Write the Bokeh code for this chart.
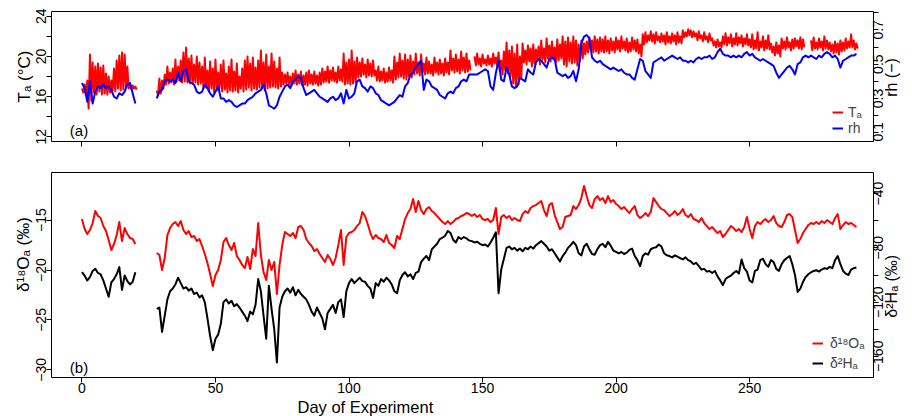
import numpy as np
from bokeh.plotting import figure
from bokeh.models import Range1d, LinearAxis, FixedTicker, Legend, LegendItem, Label, Title
from bokeh.layouts import column
from bokeh.embed import file_html
from bokeh.resources import INLINE

FONT = "Liberation Sans"
nan = float("nan")
UP = 1.5707963267948966  # text reading bottom-to-top

# ---------------- data ----------------
days_a = list(range(0, 21))      # first measurement period
days_b = list(range(28, 291))    # second measurement period

# air temperature: daily maximum / minimum (deg C)
ta_hi_a = [16.8, 17.2, 17.6, 20.2, 19.4, 19.0, 19.3, 18.9, 19.1, 18.3,
           18.0, 17.6, 18.8, 19.6, 20.1, 20.4, 20.2, 19.0, 17.3, 17.1, 17.0]
ta_lo_a = [16.4, 16.2, 14.8, 15.6, 16.4, 16.2, 16.5, 16.2, 16.3, 16.2,
           16.4, 16.6, 16.5, 16.8, 16.6, 16.7, 16.9, 16.8, 16.7, 16.8, 16.7]
ta_hi_b = [16.6, 17.8, 17.6, 18.2, 19.0, 18.4, 18.8, 19.7, 19.0, 19.6,
           20.4, 20.9, 19.8, 20.1, 19.2, 20.0, 19.4, 19.0, 19.9, 18.6,
           19.5, 18.8, 19.7, 18.4, 19.2, 19.6, 18.3, 19.0, 19.7, 18.5,
           19.3, 18.0, 18.8, 19.6, 20.0, 19.3, 19.9, 18.9, 19.6, 20.6,
           19.4, 20.2, 19.0, 20.3, 19.5, 18.8, 19.9, 18.4, 18.2, 18.4,
           18.0, 18.3, 18.6, 18.2, 18.5, 18.1, 18.4, 18.6, 18.2, 18.5,
           18.1, 18.4, 18.8, 18.5, 19.0, 18.6, 18.9, 18.4, 19.0, 18.7,
           20.3, 19.4, 19.7, 20.6, 19.5, 19.9, 19.4, 19.8, 19.2, 19.7,
           19.3, 19.6, 18.6, 19.0, 18.5, 18.8, 18.4, 18.9, 18.6, 20.0,
           19.4, 20.3, 19.6, 20.2, 19.7, 20.1, 19.5, 20.3, 19.4, 20.2,
           19.3, 19.9, 19.5, 19.2, 19.9, 19.4, 19.7, 19.3, 19.8, 19.4,
           20.6, 19.8, 20.2, 19.7, 20.5, 19.9, 20.3, 19.6, nan, 20.0,
           20.3, 19.8, 20.2, 19.7, 20.1, 19.8, 20.3, 19.9, 20.4, 19.6,
           20.5, 21.4, 20.6, 21.0, 20.3, 21.2, 20.0, 21.3, 20.6, 21.1,
           20.8, 21.2, 20.7, 21.0, 21.6, 20.8, 21.8, 21.1, 21.5, 20.9,
           21.7, 21.2, 22.0, 21.5, 21.9, 21.4, 22.0, 21.6, 21.2, 21.6,
           21.3, 21.5, 21.9, 21.6, 22.0, 21.7, 21.9, 21.7, 22.0, 21.6,
           21.8, 21.5, 21.9, 21.6, 22.0, 21.5, 21.8, 21.4, 21.9, 21.6,
           21.7, 21.2, 22.2, 22.4, 22.1, 22.5, 22.2, 22.4, 22.0, 22.3,
           22.1, 22.4, 22.0, 22.3, 22.1, 22.4, 22.0, 22.6, 22.4, 22.7,
           22.6, 22.5, 22.3, 22.5, 22.1, 22.4, 22.0, 22.3, 21.8, 21.5,
           21.7, 21.4, 22.0, 22.3, 21.9, 22.2, 21.8, 22.3, 21.9, 22.1,
           21.8, 22.2, 21.7, 22.2, 21.6, 22.4, 21.5, 22.0, 21.6, 22.1,
           21.3, 21.0, 21.4, 21.1, 21.8, 21.5, 21.9, 21.4, 21.7, 21.8,
           21.6, 21.9, 21.7, nan, nan, 21.6, 21.9, 21.4, 21.8, 21.5,
           22.0, 21.6, 21.4, 21.2, 21.5, 21.3, 21.6, 21.4, 21.8, 21.5,
           22.2, 21.6, 21.3]
ta_lo_b = [16.1, 16.3, 16.8, 17.2, 17.3, 17.4, 17.2, 17.5, 17.6, 17.4,
           17.5, 17.4, 17.3, 17.3, 17.4, 17.2, 17.3, 16.8, 16.9, 16.5,
           16.8, 16.4, 16.6, 16.8, 16.5, 16.7, 16.4, 16.6, 16.5, 16.6,
           16.4, 16.8, 16.5, 16.7, 16.9, 16.6, 16.8, 16.7, 16.9, 16.8,
           16.6, 16.8, 16.9, 17.0, 16.9, 16.8, 17.0, 17.2, 17.3, 17.2,
           17.1, 17.3, 17.2, 17.3, 17.1, 17.2, 17.1, 17.3, 17.2, 17.3,
           17.1, 17.2, 17.4, 17.5, 17.4, 17.6, 17.5, 17.4, 17.6, 17.5,
           17.2, 17.3, 17.2, 17.3, 17.4, 17.9, 18.0, 18.2, 17.9, 18.1,
           18.0, 18.1, 17.6, 17.5, 17.6, 17.4, 17.5, 17.6, 17.4, 17.7,
           17.9, 18.0, 17.8, 17.7, 18.0, 17.9, 18.2, 18.3, 18.1, 18.4,
           18.2, 18.3, 18.3, 18.1, 18.4, 18.2, 18.3, 18.1, 18.4, 18.2,
           18.6, 18.4, 18.5, 18.3, 18.6, 18.4, 18.5, 18.6, nan, 19.1,
           19.2, 19.0, 19.3, 19.1, 19.2, 19.0, 19.3, 19.1, 18.5, 18.2,
           18.6, 18.3, 18.0, 17.3, 17.0, 17.2, 17.8, 19.4, 19.2, 19.5,
           19.0, 19.3, 19.6, 19.2, 19.7, 19.4, 19.8, 19.5, 19.7, 19.4,
           19.6, 19.8, 19.2, 19.0, 19.5, 19.3, 19.4, 19.1, 19.6, 19.8,
           20.2, 20.4, 20.6, 20.4, 20.5, 20.3, 20.5, 20.4, 20.5, 20.3,
           20.6, 20.4, 20.7, 20.5, 20.8, 20.6, 20.4, 20.5, 20.7, 20.5,
           20.3, 20.0, 21.2, 21.4, 21.6, 21.5, 21.3, 21.6, 21.4, 21.5,
           21.2, 21.4, 21.3, 21.5, 21.2, 21.4, 21.3, 21.9, 22.0, 22.1,
           21.9, 22.0, 21.6, 21.8, 21.5, 21.7, 21.4, 21.6, 21.1, 20.9,
           21.0, 20.9, 21.2, 21.1, 21.3, 21.0, 21.2, 21.1, 21.3, 21.0,
           21.2, 21.1, 20.9, 20.7, 20.8, 20.6, 20.9, 20.6, 20.8, 20.7,
           20.4, 20.1, 20.3, 20.0, 20.8, 20.7, 20.9, 20.6, 20.8, 21.0,
           20.8, 20.7, 20.9, nan, nan, 20.6, 20.8, 20.7, 20.9, 20.6,
           20.8, 20.7, 20.5, 20.3, 20.4, 20.2, 20.5, 20.6, 20.8, 20.9,
           20.9, 20.7, 20.8]

# relative humidity (-)
rh_a = [0.39, 0.36, 0.28, 0.40, 0.27, 0.34, 0.37, 0.36, 0.38, 0.36,
        0.37, 0.35, 0.31, 0.30, 0.33, 0.32, 0.34, 0.38, 0.39, 0.33, 0.27]
rh_b = [0.30, 0.34, 0.35, 0.40, 0.41, 0.40, 0.41, 0.39, 0.45, 0.40,
        0.46, 0.47, 0.40, 0.39, 0.38, 0.34, 0.33, 0.34, 0.38, 0.36,
        0.33, 0.31, 0.34, 0.37, 0.30, 0.30, 0.28, 0.29, 0.28, 0.26,
        0.25, 0.26, 0.27, 0.27, 0.29, 0.30, 0.31, 0.33, 0.34, 0.35,
        0.38, 0.33, 0.26, 0.25, 0.24, 0.26, 0.31, 0.34, 0.37, 0.38,
        0.36, 0.40, 0.41, 0.43, 0.42, 0.36, 0.32, 0.33, 0.34, 0.35,
        0.33, 0.31, 0.30, 0.29, 0.28, 0.30, 0.31, 0.29, 0.30, 0.33,
        0.27, 0.35, 0.30, 0.31, 0.33, 0.40, 0.41, 0.37, 0.36, 0.34,
        0.37, 0.36, 0.33, 0.32, 0.29, 0.28, 0.27, 0.26, 0.27, 0.28,
        0.30, 0.32, 0.31, 0.37, 0.39, 0.44, 0.45, 0.48, 0.50, 0.52,
        0.35, 0.41, 0.40, 0.37, 0.36, 0.35, 0.32, 0.31, 0.30, 0.33,
        0.34, 0.33, 0.36, 0.37, 0.40, 0.41, 0.40, 0.44, 0.44, 0.44,
        0.44, 0.45, 0.46, 0.47, 0.46, 0.37, 0.35, 0.45, 0.52, 0.41,
        0.40, 0.48, 0.44, 0.37, 0.36, 0.37, 0.42, 0.41, 0.40, 0.47,
        0.45, 0.44, 0.51, 0.53, 0.52, 0.50, 0.48, 0.53, 0.54, 0.53,
        0.45, 0.44, 0.43, 0.44, 0.42, 0.43, 0.46, 0.40, 0.47, 0.62,
        0.66, 0.67, 0.65, 0.54, 0.52, 0.51, 0.52, 0.50, 0.49, 0.48,
        0.47, 0.48, 0.47, 0.46, 0.47, 0.45, 0.44, 0.44, 0.42, 0.41,
        0.47, 0.53, 0.52, 0.46, 0.44, 0.42, 0.51, 0.52, 0.53, 0.54,
        0.52, 0.53, 0.54, 0.55, 0.54, 0.53, 0.54, 0.52, 0.52, 0.51,
        0.52, 0.51, 0.53, 0.54, 0.53, 0.54, 0.54, 0.55, 0.53, 0.54,
        0.57, 0.59, 0.56, 0.55, 0.55, 0.54, 0.55, 0.54, 0.55, 0.54,
        0.56, 0.57, 0.55, 0.56, 0.54, 0.53, 0.52, 0.53, 0.52, 0.51,
        0.50, 0.49, 0.45, 0.42, 0.44, 0.46, 0.48, 0.49, 0.47, 0.44,
        0.50, 0.51, 0.54, 0.55, 0.54, 0.55, 0.54, 0.53, 0.55, 0.54,
        0.56, 0.57, 0.56, 0.54, 0.55, 0.53, 0.48, 0.52, 0.53, 0.54,
        0.55, 0.55, 0.56]

# vapour delta-18O (permil)
d18o_a = [-14.9, -15.9, -16.4, -16.0, -15.3, -14.1, -14.6, -14.8, -15.6, -16.1,
          -17.0, -18.0, -17.4, -16.5, -15.2, -17.1, -15.8, -16.4, -16.8, -16.9, -17.4]
d18o_b = [-18.3, -18.5, -20.0, -18.8, -16.5, -15.8, -15.4, -15.2, -15.6, -15.1,
          -16.0, -16.4, -16.1, -16.7, -16.6, -17.1, -16.9, -17.6, -18.4, -19.3,
          -20.4, -21.6, -20.5, -20.0, -19.0, -17.2, -16.8, -17.5, -18.0, -17.3,
          -18.6, -19.0, -19.5, -19.8, -18.7, -19.9, -17.9, -18.6, -15.3, -18.5,
          -20.2, -21.0, -19.0, -20.0, -19.2, -22.4, -19.5, -17.5, -16.2, -16.4,
          -16.6, -16.3, -16.8, -15.7, -15.6, -16.0, -16.9, -17.3, -17.6, -18.1,
          -17.9, -18.4, -18.8, -19.2, -18.5, -18.9, -19.5, -18.8, -17.5, -16.0,
          -19.5, -16.7, -16.3, -16.2, -16.0, -15.6, -15.3, -14.2, -14.6, -15.4,
          -16.3, -16.9, -16.5, -16.8, -16.9, -17.2, -16.5, -17.3, -17.5, -17.8,
          -16.6, -16.9, -15.9, -14.9, -14.3, -13.9, -12.9, -14.2, -13.1, -14.0,
          -14.4, -13.9, -13.7, -14.1, -14.3, -14.6, -14.9, -15.2, -15.4, -15.1,
          -15.4, -15.2, -14.9, -14.8, -14.6, -14.5, -14.3, -14.4, -14.6, -14.4,
          -14.7, -14.5, -14.9, -15.0, -14.9, -15.2, -15.0, -13.8, -16.4, -14.7,
          -14.5, -14.8, -14.6, -15.0, -14.8, -15.0, -15.1, -14.4, -14.1, -14.3,
          -13.8, -13.6, -13.5, -13.3, -13.1, -14.0, -14.6, -13.5, -13.3, -14.5,
          -15.2, -15.9, -15.7, -14.7, -14.6, -14.5, -13.6, -13.9, -13.5, -12.8,
          -11.6, -12.6, -13.5, -13.8, -12.9, -12.6, -13.0, -12.8, -13.3, -12.6,
          -13.2, -13.0, -13.4, -13.6, -13.9, -13.7, -14.0, -14.3, -13.9, -13.6,
          -14.5, -14.8, -14.6, -14.3, -14.6, -14.2, -12.8, -13.2, -13.6, -13.9,
          -14.0, -14.3, -14.6, -14.4, -14.1, -14.5, -14.3, -13.9, -14.5, -14.7,
          -14.4, -14.9, -15.0, -15.2, -14.8, -15.3, -15.6, -15.9, -15.7, -16.0,
          -16.3, -16.1, -16.7, -16.4, -16.0, -15.6, -15.8, -16.1, -15.9, -16.2,
          -15.7, -14.7, -15.9, -16.8, -15.6, -15.2, -15.4, -15.1, -14.9, -15.2,
          -15.0, -14.6, -15.3, -15.6, -15.7, -15.2, -14.5, -14.4, -14.7, -16.0,
          -17.3, -16.9, -16.3, -15.9, -15.5, -15.3, -15.4, -15.2, -15.4, -15.1,
          -15.3, -15.0, -15.2, -15.4, -14.8, -14.4, -15.9, -15.5, -15.2, -15.4,
          -15.3, -15.5, -15.7]

# vapour delta-2H (permil)
d2h_a = [-97.9, -100.5, -104.0, -101.5, -97.0, -95.5, -98.5, -99.5, -104.0, -110.0,
         -116.0, -105.5, -103.0, -99.5, -94.2, -111.0, -100.4, -104.5, -107.0, -105.0, -98.0]
d2h_b = [-125.0, -124.0, -142.0, -130.0, -118.0, -112.0, -110.0, -107.0, -102.0, -106.0,
         -110.0, -109.0, -111.5, -110.0, -114.0, -113.0, -116.5, -115.0, -120.0, -132.0,
         -145.0, -155.5, -147.0, -144.0, -136.0, -120.0, -118.0, -121.0, -119.0, -123.0,
         -121.5, -124.0, -127.0, -130.0, -134.0, -127.0, -129.0, -122.0, -103.0, -112.0,
         -130.0, -147.0, -108.0, -125.0, -140.0, -164.5, -124.0, -116.0, -112.0, -110.0,
         -113.0, -109.0, -115.0, -111.0, -114.0, -116.0, -118.0, -122.0, -127.0, -130.0,
         -124.0, -128.0, -132.0, -140.0, -128.0, -125.0, -122.0, -128.0, -120.0, -118.0,
         -131.0, -112.0, -106.0, -103.0, -106.0, -104.0, -102.0, -104.5, -105.0, -108.0,
         -110.0, -117.0, -106.0, -108.0, -103.0, -105.0, -102.0, -104.0, -107.0, -112.0,
         -113.5, -104.0, -100.0, -98.0, -101.0, -99.5, -103.0, -98.5, -97.5, -90.5,
         -88.0, -86.0, -89.0, -81.0, -79.0, -77.0, -73.5, -72.5, -71.0, -67.5,
         -69.0, -74.0, -76.0, -72.0, -73.5, -72.0, -73.0, -74.5, -75.0, -76.0,
         -75.5, -77.0, -78.0, -77.5, -79.0, -76.0, -72.5, -68.5, -113.5, -96.0,
         -88.0, -80.0, -79.0, -81.0, -80.0, -82.0, -80.5, -82.5, -80.0, -81.0,
         -79.0, -80.5, -78.0, -76.5, -75.0, -77.0, -79.0, -82.0, -81.0, -84.0,
         -87.0, -90.0, -86.0, -83.5, -80.0, -78.0, -75.5, -78.0, -84.0, -85.5,
         -79.0, -77.0, -81.0, -84.5, -85.0, -81.0, -78.0, -77.0, -79.5, -75.5,
         -78.5, -82.0, -83.0, -84.0, -83.0, -84.5, -83.5, -81.5, -80.5, -86.0,
         -89.0, -93.5, -86.0, -84.0, -85.0, -81.0, -80.0, -79.5, -77.5, -79.0,
         -84.0, -85.5, -86.0, -87.0, -85.5, -86.5, -87.5, -88.5, -87.0, -89.0,
         -90.0, -92.0, -91.0, -93.5, -96.0, -95.5, -97.5, -97.0, -98.5, -97.0,
         -101.0, -104.0, -107.5, -103.0, -101.5, -100.5, -98.5, -97.0, -99.0, -88.5,
         -95.0, -97.5, -104.0, -105.5, -97.0, -96.0, -89.0, -88.0, -92.0, -94.0,
         -89.0, -90.5, -95.5, -97.0, -92.0, -89.0, -87.5, -86.0, -92.0, -100.0,
         -112.5, -110.0, -105.0, -101.5, -99.5, -98.0, -97.0, -96.5, -97.5, -96.0,
         -95.0, -95.5, -94.0, -95.0, -89.0, -86.0, -92.0, -97.0, -99.0, -100.0,
         -96.0, -95.0, -94.5]

x_ticks = [0, 50, 100, 150, 200, 250]
ta_ticks = [12, 14, 16, 18, 20, 22, 24]
ta_labels = ["12", "", "16", "", "20", "", "24"]
rh_ticks = [0.1, 0.2, 0.3, 0.4, 0.5, 0.6, 0.7, 0.8]
rh_labelled = [0.1, 0.3, 0.5, 0.7]
rh_labels = ["0.1", "0.3", "0.5", "0.7"]
o_ticks = [-30, -25, -20, -15]
o_labels = ["\u221230", "\u221225", "\u221220", "\u221215"]
h_ticks = [-160, -140, -120, -100, -80, -60, -40]
h_labelled = [-160, -120, -80, -40]
h_labels = ["\u2212160", "\u2212120", "\u221280", "\u221240"]

# axis ranges (R style: limits widened by 4 %)
X_LIM = (-11.4, 296.4)
TA_LIM = (11.52, 24.48)
RH_LIM = (0.049, 0.807)
O_LIM = (-30.76, -10.24)
H_LIM = (-175.6, -24.4)


# ---------------- helpers ----------------
def joined(xa, ya, xb, yb):
    """two measurement periods separated by a break in the line"""
    x = list(xa) + [24.0] + list(xb)
    y = list(ya) + [nan] + list(yb)
    return np.array(x, dtype=float), np.array(y, dtype=float)


def diurnal(days, hi, lo):
    xs, ys = [], []
    for d, h, l in zip(days, hi, lo):
        xs += [d, d + 0.5]
        ys += [h, l]
    return xs, ys


def style_axis(ax, size="14px", ticks=True):
    ax.axis_line_color = None
    ax.major_tick_line_color = "black" if ticks else None
    ax.major_tick_line_width = 1
    ax.major_tick_out = 5 if ticks else 0
    ax.major_tick_in = 0
    ax.minor_tick_line_color = None
    ax.major_label_text_font = FONT
    ax.major_label_text_font_size = size
    ax.major_label_text_color = "black"
    ax.major_label_standoff = 0


def set_ticks(ax, ticks, labels):
    ax.ticker = FixedTicker(ticks=list(ticks))
    ax.major_label_overrides = {t: s for t, s in zip(ticks, labels)}


def px_per_unit(lim, pixels):
    return pixels / (lim[1] - lim[0])


def text_width(s, size):
    w = {"0": .556, "1": .556, "2": .556, "3": .556, "4": .556, "5": .556, "6": .556,
         "7": .556, "8": .556, "9": .556, ".": .278, "\u2212": .584, " ": .278,
         "(": .333, ")": .333, "r": .333, "h": .556, "\u03b4": .556, "\u00b2": .333,
         "H": .722, "\u2090": .42, "\u2030": 1.0}
    return sum(w.get(c, .556) for c in s) * size


def right_labels(range_name, values, labels, lim, frame_px, size):
    """right-hand labels reading bottom-to-top, centred on their value"""
    ppu = px_per_unit(lim, frame_px)
    pos = []
    for v, s in zip(values, labels):
        a = v - text_width(s, size) / 2.0 / ppu
        pos.append(max(a, lim[0] + 0.0005 * (lim[1] - lim[0])))
    ax = LinearAxis(y_range_name=range_name)
    style_axis(ax, size="%dpx" % size, ticks=False)
    set_ticks(ax, pos, labels)
    ax.major_label_orientation = UP
    return ax


def left_title(text, value, size):
    ax = LinearAxis()
    style_axis(ax, size="%dpx" % size, ticks=False)
    set_ticks(ax, [value], [text])
    ax.major_label_orientation = "parallel"
    return ax


x_range = Range1d(*X_LIM)


def make_fig(height, top, bottom, y_lim):
    p = figure(width=912, height=height, x_range=x_range, y_range=Range1d(*y_lim),
               output_backend="svg", toolbar_location=None,
               min_border_left=51, min_border_right=39,
               min_border_top=top, min_border_bottom=bottom)
    p.xgrid.visible = False
    p.ygrid.visible = False
    p.outline_line_color = "black"
    p.outline_line_width = 1
    p.outline_line_alpha = 1
    p.background_fill_color = "white"
    p.border_fill_color = "white"
    return p


# ---------------- panel (a) ----------------
p1 = make_fig(156, 11, 15, TA_LIM)
p1.extra_y_ranges = {"rh": Range1d(*RH_LIM)}

xa, ya = diurnal(days_a, ta_hi_a, ta_lo_a)
xb, yb = diurnal(days_b, ta_hi_b, ta_lo_b)
tx, ty = joined(xa, ya, xb, yb)
r_ta = p1.line(tx, ty, line_color="red", line_width=2, line_join="round")
hx, hy = joined(days_a, rh_a, days_b, rh_b)
r_rh = p1.line(hx, hy, y_range_name="rh", line_color="blue", line_width=2, line_join="round")

ax = p1.xaxis[0]
style_axis(ax, size="0px")
set_ticks(ax, x_ticks, [""] * len(x_ticks))

ax = p1.yaxis[0]
style_axis(ax)
set_ticks(ax, ta_ticks, ta_labels)
ax.major_label_orientation = "parallel"
p1.add_layout(left_title("T\u2090 (\u00b0C)", 18.0, 17), "left")

ax_rh = LinearAxis(y_range_name="rh")
style_axis(ax_rh, size="0px")
set_ticks(ax_rh, rh_ticks, [""] * len(rh_ticks))
p1.add_layout(ax_rh, "right")
p1.add_layout(right_labels("rh", rh_labelled, rh_labels, RH_LIM, 130, 14), "right")
p1.add_layout(right_labels("rh", [0.422], ["rh (\u2212)"], RH_LIM, 130, 16), "right")

leg1 = Legend(items=[LegendItem(label="T\u2090", renderers=[r_ta]),
                     LegendItem(label="rh", renderers=[r_rh])],
              location=(781, 5), orientation="vertical",
              border_line_color=None, background_fill_alpha=0,
              label_text_font=FONT, label_text_font_size="14px",
              glyph_width=11, glyph_height=12, label_height=12,
              spacing=0, padding=0, margin=0, label_standoff=5)
p1.add_layout(leg1)
p1.add_layout(Label(x=27.5, y=11, x_units="screen", y_units="screen", text="(a)",
                    text_align="center", text_baseline="middle",
                    text_font=FONT, text_font_size="15px", text_color="black"))

# ---------------- panel (b) ----------------
p2 = make_fig(260, 16, 39, O_LIM)
p2.extra_y_ranges = {"h": Range1d(*H_LIM)}

ox, oy = joined(days_a, d18o_a, days_b, d18o_b)
r_o = p2.line(ox, oy, line_color="red", line_width=2, line_join="round")
dx, dy = joined(days_a, d2h_a, days_b, d2h_b)
r_h = p2.line(dx, dy, y_range_name="h", line_color="black", line_width=2, line_join="round")

ax = p2.xaxis[0]
style_axis(ax)
set_ticks(ax, x_ticks, [str(t) for t in x_ticks])

ax = p2.yaxis[0]
style_axis(ax)
set_ticks(ax, o_ticks, o_labels)
ax.major_label_orientation = "parallel"
p2.add_layout(left_title("\u03b4\u00b9\u2078O\u2090 (\u2030)", -18.45, 17), "left")

ax_h = LinearAxis(y_range_name="h")
style_axis(ax_h, size="0px")
set_ticks(ax_h, h_ticks, [""] * len(h_ticks))
p2.add_layout(ax_h, "right")
p2.add_layout(right_labels("h", h_labelled, h_labels, H_LIM, 205, 14), "right")
p2.add_layout(right_labels("h", [-108.0], ["\u03b4\u00b2H\u2090 (\u2030)"], H_LIM, 205, 16), "right")

leg2 = Legend(items=[LegendItem(label="\u03b4\u00b9\u2078O\u2090", renderers=[r_o]),
                     LegendItem(label="\u03b4\u00b2H\u2090", renderers=[r_h])],
              location=(761, 5), orientation="vertical",
              border_line_color=None, background_fill_alpha=0,
              label_text_font=FONT, label_text_font_size="14px",
              glyph_width=11, glyph_height=18, label_height=18,
              spacing=2, padding=0, margin=0, label_standoff=7)
p2.add_layout(leg2)
p2.add_layout(Label(x=27.5, y=10.5, x_units="screen", y_units="screen", text="(b)",
                    text_align="center", text_baseline="middle",
                    text_font=FONT, text_font_size="15px", text_color="black"))
p2.add_layout(Title(text="Day of Experiment", align="left", offset=246, standoff=0,
                    text_font=FONT, text_font_size="16.5px", text_font_style="normal",
                    text_color="black"), "below")

layout = column(p1, p2)
open("out.html", "w").write(file_html(layout, INLINE))
